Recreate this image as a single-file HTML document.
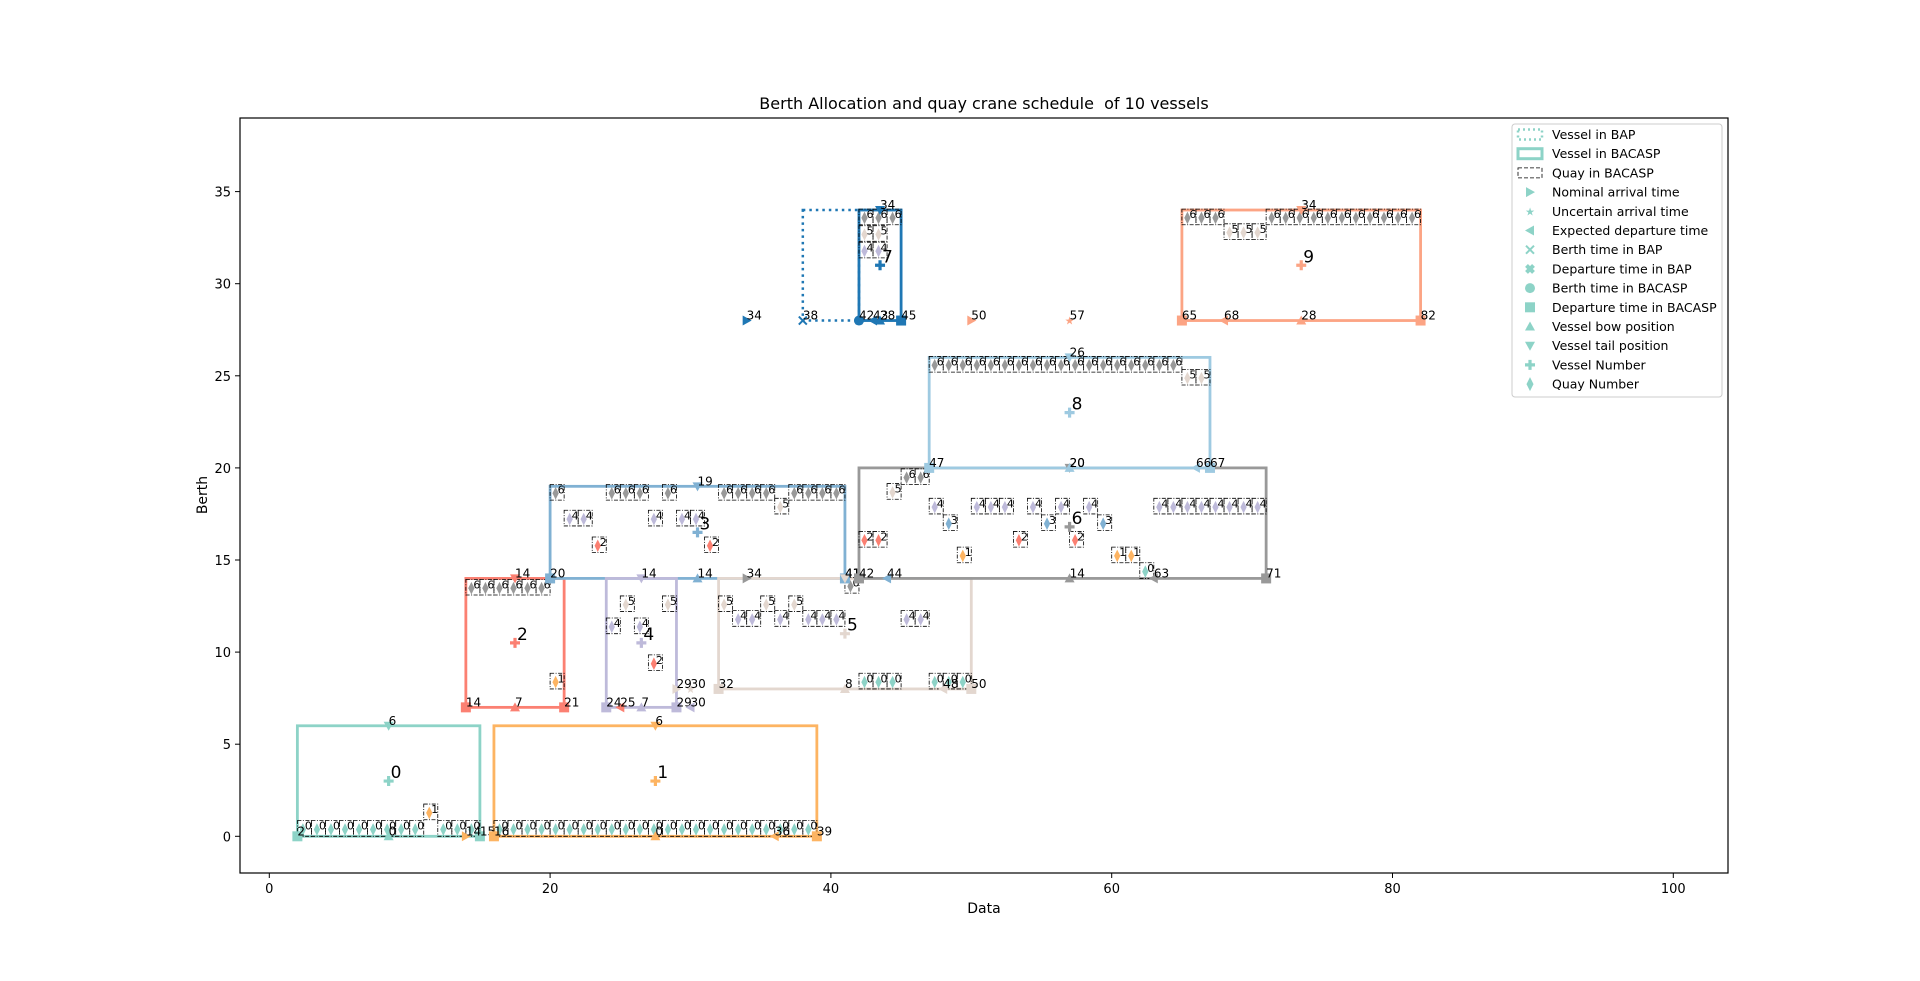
<!DOCTYPE html>
<html><head><meta charset="utf-8"><style>
body{margin:0;background:#fff}
svg{display:block;font-family:"DejaVu Sans","Liberation Sans",sans-serif}
</style></head><body>
<svg id="chart" width="1920" height="981" viewBox="0 0 1920 981" xmlns="http://www.w3.org/2000/svg">
<rect x="0" y="0" width="1920" height="981" fill="#fff"/>
<text x="984" y="109" font-size="16" text-anchor="middle" xml:space="preserve">Berth Allocation and quay crane schedule  of 10 vessels</text>
<text x="984" y="913" font-size="14" text-anchor="middle">Data</text>
<text x="207" y="495" font-size="14" text-anchor="middle" transform="rotate(-90 207 495)">Berth</text>
<g id="plot"></g>
<rect x="240" y="118" width="1488" height="755" fill="none" stroke="#000" stroke-width="1.2"/>
<g id="legend"></g>
</svg>
<script>
const colors = ["#8dd3c7","#fdb462","#fb8072","#80b1d3","#bebada","#e3d7cf","#999999","#1f77b4","#9ecae1","#fca484"];
const xTicks = [0,20,40,60,80,100];
const yTicks = [0,5,10,15,20,25,30,35];
// vessels: [id, start, end, bottom, top]
const vessels = [[0,2,15,0,6],[1,16,39,0,6],[2,14,21,7,14],[3,20,41,14,19],[4,24,29,7,14],[5,32,50,8,14],[6,42,71,14,20],[7,42,45,28,34],[8,47,67,20,26],[9,65,82,28,34]];
// BAP rectangles: [id, start, end, bottom, top]
const bapRects = [[7,38,42,28,34]];
// markers: [type, x, y, colorIdx, label]
const markers = [
["sq",2,0,0,"2"],["sq",15,0,0,"15"],["up",8.5,0,0,"0"],["dn",8.5,6,0,"6"],["plus",8.5,3,0,"0"],
[">",14,0,1,"14"],["sq",16,0,1,"16"],["sq",39,0,1,"39"],["<",36,0,1,"36"],["up",27.5,0,1,"0"],["dn",27.5,6,1,"6"],["plus",27.5,3,1,"1"],
["sq",14,7,2,"14"],["sq",21,7,2,"21"],["up",17.5,7,2,"7"],["dn",17.5,14,2,"14"],["plus",17.5,10.5,2,"2"],["<",25,7,2,"25"],
["sq",20,14,3,"20"],["sq",41,14,3,"41"],["up",30.5,14,3,"14"],["dn",30.5,19,3,"19"],["plus",30.5,16.5,3,"3"],["<",44,14,3,"44"],
["sq",24,7,4,"24"],["sq",29,7,4,"29"],["up",26.5,7,4,"7"],["dn",26.5,14,4,"14"],["plus",26.5,10.5,4,"4"],["<",30,7,4,"30"],
[">",29,8,5,"29"],["star",30,8,5,"30"],["sq",32,8,5,"32"],["sq",50,8,5,"50"],["up",41,8,5,"8"],["dn",41,14,5,"41"],["plus",41,11,5,"5"],["<",48,8,5,"48"],
[">",34,14,6,"34"],["sq",42,14,6,"42"],["sq",71,14,6,"71"],["up",57,14,6,"14"],["dn",57,20,6,"20"],["plus",57,16.8,6,"6"],["<",63,14,6,"63"],
[">",34,28,7,"34"],["x",38,28,7,"38"],["circ",42,28,7,"42"],["<",43,28,7,"43"],["up",43.5,28,7,"28"],["sq",45,28,7,"45"],["dn",43.5,34,7,"34"],["plus",43.5,31,7,"7"],
["sq",47,20,8,"47"],["sq",67,20,8,"67"],["<",66,20,8,"66"],["up",57,20,8,"20"],["dn",57,26,8,"26"],["plus",57,23,8,"8"],
[">",50,28,9,"50"],["star",57,28,9,"57"],["sq",65,28,9,"65"],["<",68,28,9,"68"],["up",73.5,28,9,"28"],["sq",82,28,9,"82"],["dn",73.5,34,9,"34"],["plus",73.5,31,9,"9"]
];
// quay cells: [x, yBottom, quayNumber]
const quays = [
[2,0,0],[3,0,0],[4,0,0],[5,0,0],[6,0,0],[7,0,0],[8,0,0],[9,0,0],[10,0,0],[11,0.9,1],[12,0,0],[13,0,0],[14,0,0],
[16,0,0],[17,0,0],[18,0,0],[19,0,0],[20,0,0],[21,0,0],[22,0,0],[23,0,0],[24,0,0],[25,0,0],[26,0,0],[27,0,0],[28,0,0],[29,0,0],[30,0,0],[31,0,0],[32,0,0],[33,0,0],[34,0,0],[35,0,0],[36,0,0],[37,0,0],[38,0,0],
[14,13.1,6],[15,13.1,6],[16,13.1,6],[17,13.1,6],[18,13.1,6],[19,13.1,6],[20,8,1],
[20,18.25,6],[24,18.25,6],[25,18.25,6],[26,18.25,6],[28,18.25,6],[32,18.25,6],[33,18.25,6],[34,18.25,6],[35,18.25,6],[37,18.25,6],[38,18.25,6],[39,18.25,6],[40,18.25,6],
[36,17.5,5],[21,16.85,4],[22,16.85,4],[27,16.85,4],[29,16.85,4],[30,16.85,4],[23,15.4,2],[31,15.4,2],[41,13.2,6],
[25,12.2,5],[28,12.2,5],[24,11,4],[26,11,4],[27,9,2],
[32,12.2,5],[35,12.2,5],[37,12.2,5],[33,11.4,4],[34,11.4,4],[36,11.4,4],[38,11.4,4],[39,11.4,4],[40,11.4,4],[45,11.4,4],[46,11.4,4],
[42,8,0],[43,8,0],[44,8,0],[47,8,0],[48,8,0],[49,8,0],
[44,18.3,5],[45,19.1,6],[46,19.1,6],[47,17.5,4],[50,17.5,4],[51,17.5,4],[52,17.5,4],[54,17.5,4],[56,17.5,4],[58,17.5,4],
[63,17.5,4],[64,17.5,4],[65,17.5,4],[66,17.5,4],[67,17.5,4],[68,17.5,4],[69,17.5,4],[70,17.5,4],
[48,16.6,3],[55,16.6,3],[59,16.6,3],[42,15.7,2],[43,15.7,2],[53,15.7,2],[57,15.7,2],[49,14.85,1],[60,14.85,1],[61,14.85,1],[62,14,0],
[42,33.2,6],[43,33.2,6],[44,33.2,6],[42,32.3,5],[43,32.3,5],[42,31.4,4],[43,31.4,4],
[47,25.2,6],[48,25.2,6],[49,25.2,6],[50,25.2,6],[51,25.2,6],[52,25.2,6],[53,25.2,6],[54,25.2,6],[55,25.2,6],[56,25.2,6],[57,25.2,6],[58,25.2,6],[59,25.2,6],[60,25.2,6],[61,25.2,6],[62,25.2,6],[63,25.2,6],[64,25.2,6],[65,24.5,5],[66,24.5,5],
[65,33.2,6],[66,33.2,6],[67,33.2,6],[71,33.2,6],[72,33.2,6],[73,33.2,6],[74,33.2,6],[75,33.2,6],[76,33.2,6],[77,33.2,6],[78,33.2,6],[79,33.2,6],[80,33.2,6],[81,33.2,6],
[68,32.4,5],[69,32.4,5],[70,32.4,5]
];
const legendLabels = ["Vessel in BAP","Vessel in BACASP","Quay in BACASP","Nominal arrival time","Uncertain arrival time","Expected departure time","Berth time in BAP","Departure time in BAP","Berth time in BACASP","Departure time in BACASP","Vessel bow position","Vessel tail position","Vessel Number","Quay Number"];

const NS="http://www.w3.org/2000/svg";
const X=x=>269.3+x*14.04, Y=y=>836.3-y*18.42;
const plot=document.getElementById('plot');
function mk(tag,attrs,parent){const e=document.createElementNS(NS,tag);for(const k in attrs)e.setAttribute(k,attrs[k]);(parent||plot).appendChild(e);return e;}
function shape(type,cx,cy,col,parent,s){
  s=s||5;let e;
  if(type==="sq")e=mk('rect',{x:cx-s,y:cy-s,width:2*s,height:2*s,fill:col},parent);
  else if(type==="circ")e=mk('circle',{cx:cx,cy:cy,r:s,fill:col},parent);
  else if(type==="up")e=mk('polygon',{points:`${cx-s},${cy+s*0.8} ${cx+s},${cy+s*0.8} ${cx},${cy-s}`,fill:col},parent);
  else if(type==="dn")e=mk('polygon',{points:`${cx-s},${cy-s*0.8} ${cx+s},${cy-s*0.8} ${cx},${cy+s}`,fill:col},parent);
  else if(type===">")e=mk('polygon',{points:`${cx-s*0.8},${cy-s} ${cx-s*0.8},${cy+s} ${cx+s},${cy}`,fill:col},parent);
  else if(type==="<")e=mk('polygon',{points:`${cx+s*0.8},${cy-s} ${cx+s*0.8},${cy+s} ${cx-s},${cy}`,fill:col},parent);
  else if(type==="star")e=mk('text',{x:cx,y:cy+4,'font-size':11,'text-anchor':'middle',fill:col},parent),e.textContent="★";
  else if(type==="x")e=mk('path',{d:`M${cx-s*0.8} ${cy-s*0.8}L${cx+s*0.8} ${cy+s*0.8}M${cx-s*0.8} ${cy+s*0.8}L${cx+s*0.8} ${cy-s*0.8}`,stroke:col,'stroke-width':2},parent);
  else if(type==="X")e=mk('path',{d:`M${cx-s*0.7} ${cy-s*0.7}L${cx+s*0.7} ${cy+s*0.7}M${cx-s*0.7} ${cy+s*0.7}L${cx+s*0.7} ${cy-s*0.7}`,stroke:col,'stroke-width':4},parent);
  else if(type==="plus")e=mk('path',{d:`M${cx-s} ${cy}H${cx+s}M${cx} ${cy-s}V${cy+s}`,stroke:col,'stroke-width':3.2},parent);
  else if(type==="dia")e=mk('polygon',{points:`${cx},${cy-s*1.4} ${cx+s*0.7},${cy} ${cx},${cy+s*1.4} ${cx-s*0.7},${cy}`,fill:col},parent);
  else if(type==="rectline")e=mk('rect',{x:cx-12,y:cy-5,width:24,height:10,fill:'none',stroke:col,'stroke-width':3},parent);
  else if(type==="rectdot")e=mk('rect',{x:cx-12,y:cy-5,width:24,height:10,fill:'none',stroke:col,'stroke-width':2.5,'stroke-dasharray':'2,3'},parent);
  else if(type==="rectdash")e=mk('rect',{x:cx-12,y:cy-5,width:24,height:10,fill:'none',stroke:'#000','stroke-width':0.8,'stroke-dasharray':'4,2'},parent);
  return e;
}
xTicks.forEach(v=>{const g=mk('g',{});


mk('line',{x1:X(v),x2:X(v),y1:873,y2:878,stroke:'#000'},g);const t=mk('text',{x:X(v),y:893,'font-size':13,'text-anchor':'middle'},g);t.textContent=v;});
yTicks.forEach(v=>{const g=mk('g',{});


mk('line',{x1:235,x2:240,y1:Y(v),y2:Y(v),stroke:'#000'},g);const t=mk('text',{x:231,y:Y(v)+5,'font-size':13,'text-anchor':'end'},g);t.textContent=v;});
bapRects.forEach(r=>{const e=mk('rect',{x:X(r[1]),y:Y(r[4]),width:X(r[2])-X(r[1]),height:Y(r[3])-Y(r[4]),fill:'none',stroke:colors[r[0]],'stroke-width':2.5,'stroke-dasharray':'2.5,4'});

});
vessels.forEach(v=>{const e=mk('rect',{x:X(v[1]),y:Y(v[4]),width:X(v[2])-X(v[1]),height:Y(v[3])-Y(v[4]),fill:'none',stroke:colors[v[0]],'stroke-width':2.8});

});
quays.forEach(q=>{const g=mk('g',{});


const x0=X(q[0]),x1=X(q[0]+1),y1=Y(q[1]),y0=Y(q[1]+0.85);
mk('rect',{x:x0,y:y0,width:x1-x0,height:y1-y0,fill:'none',stroke:'#000','stroke-width':0.8,'stroke-dasharray':'4,1.5,1,1.5'},g);
shape('dia',(x0+x1)/2-1.5,(y0+y1)/2+1,colors[q[2]],g,4.5);
const t=mk('text',{x:(x0+x1)/2+0.5,y:y0+9,'font-size':11},g);t.textContent=q[2];});
markers.forEach(m=>{const g=mk('g',{});


const cx=X(m[1]),cy=Y(m[2]);shape(m[0],cx,cy,colors[m[3]],g,m[0]==="plus"?5:5);
const big=m[0]==="plus";const t=mk('text',{x:cx+(big?2:0),y:cy-(big?3:1),'font-size':big?17:12},g);t.textContent=m[4];});
const lg=document.getElementById('legend');
mk('rect',{x:1512,y:124,width:210,height:273,rx:3,fill:'#fff',stroke:'#ccc'},lg);
const ltypes=["rectdot","rectline","rectdash",">","star","<","x","X","circ","sq","up","dn","plus","dia"];
legendLabels.forEach((l,i)=>{const g=mk('g',{},lg);


const cy=134.5+i*19.2;shape(ltypes[i],1530,cy,colors[0],g,ltypes[i]==="star"?4:5);
const t=mk('text',{x:1552,y:cy+4.5,'font-size':12.5},g);t.textContent=l;});
</script>
</body></html>
